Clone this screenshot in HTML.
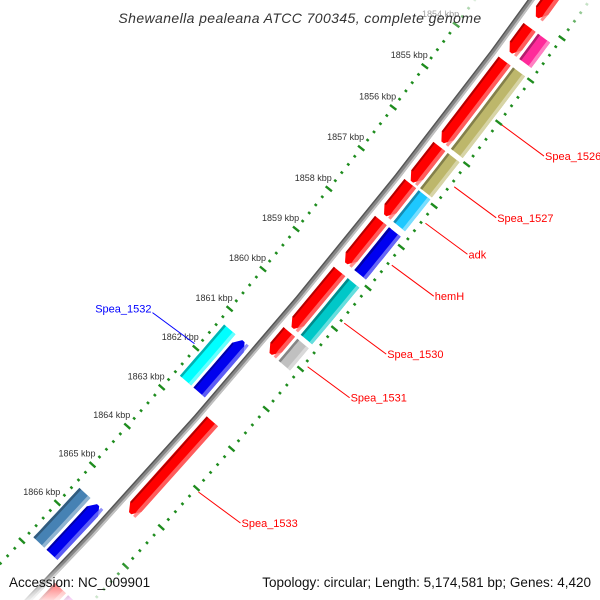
<!DOCTYPE html>
<html><head><meta charset="utf-8"><style>
html,body{margin:0;padding:0;background:#fff;width:600px;height:600px;overflow:hidden;}
svg{display:block;font-family:"Liberation Sans",sans-serif;}
</style></head><body>
<svg id="map" width="600" height="600" viewBox="0 0 600 600" xmlns="http://www.w3.org/2000/svg">
<defs>
<linearGradient id="fadeTop" x1="0" y1="0" x2="0" y2="1"><stop offset="0" stop-color="#fff" stop-opacity="0.85"/><stop offset="1" stop-color="#fff" stop-opacity="0"/></linearGradient>
<linearGradient id="fadeBot" x1="0" y1="0" x2="0" y2="1"><stop offset="0" stop-color="#fff" stop-opacity="0"/><stop offset="1" stop-color="#fff" stop-opacity="0.85"/></linearGradient>
</defs>
<g id="ticks"></g>
<rect x="0" y="0" width="600" height="34" fill="url(#fadeTop)"/>
<g id="backbone"></g>
<g id="genes"></g>
<g id="labels"></g>
<rect x="0" y="562" width="600" height="38" fill="url(#fadeBot)"/>
<text x="300" y="23" text-anchor="middle" font-size="14" font-style="italic" fill="#333" letter-spacing="0.4">Shewanella pealeana ATCC 700345, complete genome</text>
<text x="9" y="587" font-size="13.5" fill="#111">Accession: NC_009901</text>
<text x="591" y="587" font-size="13.5" text-anchor="end" fill="#111">Topology: circular; Length: 5,174,581 bp; Genes: 4,420</text>
</svg>
<script>
const majorTicks=[1850,1851,1852,1853,1854,1855,1856,1857,1858,1859,1860,1861,1862,1863,1864,1865,1866,1867,1868,1869,1870];
const tickLabels=["1850 kbp","1851 kbp","1852 kbp","1853 kbp","1854 kbp","1855 kbp","1856 kbp","1857 kbp","1858 kbp","1859 kbp","1860 kbp","1861 kbp","1862 kbp","1863 kbp","1864 kbp","1865 kbp","1866 kbp","1867 kbp","1868 kbp","1869 kbp","1870 kbp"];
const fwdStart=[1851.5,1853.2,1854.0,1856.05,1856.95,1857.85,1859.1,1860.6,1862.85,1867.15];
const fwdEnd=[1852.96,1853.8,1855.95,1856.9,1857.72,1858.9,1860.5,1861.15,1865.2,1868.6];
const fwdCog=[null,"#ff2a9a","#bdb76b","#bdb76b","#1ec8ff","#0000f0","#00c8c8","#c0c0c0",null,"#cc00cc"];
const revStart=[1861.3,1865.5];
const revEnd=[1862.6,1866.8];
const revCog=["#00ffff","#4682b4"];
const labelNames=["Spea_1526","Spea_1527","adk","hemH","Spea_1530","Spea_1531","Spea_1533","Spea_1532"];
const labelKbp=[1855.0,1856.48,1857.36,1858.38,1859.8,1860.88,1864.03,1861.95];
const labelStrand=[1,1,1,1,1,1,1,-1];

const NS="http://www.w3.org/2000/svg";
const CX=-4296, CY=-3534, R0=5983, TH0=37.33, DEG=0.5009;
function P(k,v){const t=(TH0+(k-1855)*DEG)*Math.PI/180;const r=R0+v;return [CX+r*Math.cos(t),CY+r*Math.sin(t)];}
function el(tag,attrs,parent){const e=document.createElementNS(NS,tag);for(const a in attrs)e.setAttribute(a,attrs[a]);parent.appendChild(e);return e;}
function pts(a){return a.map(p=>p[0].toFixed(1)+","+p[1].toFixed(1)).join(" ");}
function band(k1,k2,v1,v2){const a=[];const n=8;for(let i=0;i<=n;i++)a.push(P(k1+(k2-k1)*i/n,v1));for(let i=n;i>=0;i--)a.push(P(k1+(k2-k1)*i/n,v2));return a;}
function arrow(k1,k2,v1,v2,dir){const h=0.16;const vm=(v1+v2)/2;const a=[];
 if(dir>0){const kb=Math.max(k1,k2-h);a.push(P(k1,v1),P(kb,v1),P(k2,vm-1.5),P(k2,vm+1.5),P(kb,v2),P(k1,v2));}
 else{const kb=Math.min(k2,k1+h);a.push(P(k2,v1),P(kb,v1),P(k1,vm-1.5),P(k1,vm+1.5),P(kb,v2),P(k2,v2));}
 return a;}

const tg=document.getElementById('ticks');
const rings=[-46,47];
for(let i=0;i<majorTicks.length;i++){
 const k=majorTicks[i];
 for(const v of rings){const a=P(k,v-4),b=P(k,v+4);
  const t=el('line',{x1:a[0],y1:a[1],x2:b[0],y2:b[1],stroke:"#1e8c1e","stroke-width":2.4},tg);
  
  }
 const p=P(k,-46);
 if(p[0]>40){
  const tx=el('text',{x:(p[0]+3).toFixed(1),y:(p[1]-8).toFixed(1),"text-anchor":"end","font-size":9,fill:"#333"},tg);
  tx.textContent=tickLabels[i];
  
  
 }
 if(i<majorTicks.length-1){for(let j=1;j<5;j++){const km=k+j*0.2;
  for(const v of rings){const a=P(km,v-1.4),b=P(km,v+1.4);
   const m=el('line',{x1:a[0],y1:a[1],x2:b[0],y2:b[1],stroke:"#1e8c1e","stroke-width":2.4},tg);
   
   }}}
}

const bg=document.getElementById('backbone');
const bpoly=el('polygon',{points:pts(band(1848,1872,-3,3)),fill:"#858585"},bg);


el('polygon',{points:pts(band(1848,1872,1,3)),fill:"#c0c0c0"},bg);
el('polygon',{points:pts(band(1848,1872,-3,-1.6)),fill:"#555"},bg);

const gg=document.getElementById('genes');
function shade(col,f){const c=parseInt(col.slice(1),16);let r=c>>16,g=(c>>8)&255,b=c&255;
 if(f<0){r=Math.round(r*(1+f));g=Math.round(g*(1+f));b=Math.round(b*(1+f));}else{r=Math.round(r+(255-r)*f);g=Math.round(g+(255-g)*f);b=Math.round(b+(255-b)*f);}
 return "rgb("+r+","+g+","+b+")";}
function drawArrow(k1,k2,v1,v2,dir,col,name){
 const g=el('g',{},gg);
 
 
 el('polygon',{points:pts(arrow(k1,k2,v1,v2,dir)),fill:col},g);
 el('polygon',{points:pts(arrow(k1,k2,v2-4,v2,dir).slice(0,6)),fill:shade(col,0.45),opacity:0.8},g);
 el('polygon',{points:pts(band(k1+(dir<0?0.16:0),k2-(dir>0?0.16:0),v1,v1+2)),fill:shade(col,-0.3)},g);
}
function drawBox(k1,k2,v1,v2,col,name){
 const g=el('g',{},gg);
 
 
 el('polygon',{points:pts(band(k1,k2,v1,v2)),fill:col},g);
 el('polygon',{points:pts(band(k1,k2,v1,v1+2.5)),fill:shade(col,-0.3)},g);
 el('polygon',{points:pts(band(k1,k2,v2-3.5,v2)),fill:shade(col,0.4)},g);
}
for(let i=0;i<fwdStart.length;i++){
 drawArrow(fwdStart[i],fwdEnd[i],7,22,1,"#ff0000","forward-gene");
 if(fwdCog[i])drawBox(fwdStart[i],fwdEnd[i],25,40,fwdCog[i],"forward-cog-gene");
}
for(let i=0;i<revStart.length;i++){
 drawArrow(revStart[i],revEnd[i],-22,-7,-1,"#0000ee","reverse-gene");
 drawBox(revStart[i],revEnd[i],-40,-25,revCog[i],"reverse-cog-gene");
}

const lg=document.getElementById('labels');
for(let i=0;i<labelNames.length;i++){
 const s=labelStrand[i];const col=s>0?"#ff0000":"#0000ff";
 const a=P(labelKbp[i],s>0?51:-50);
 const b=[a[0]+42*s,a[1]+31*s];
 const ln=el('line',{x1:a[0],y1:a[1],x2:b[0],y2:b[1],stroke:col,"stroke-width":1},lg);
 
 
 const t=el('text',{x:(b[0]+(s>0?1:-1)).toFixed(1),y:(b[1]+(s>0?4:0)).toFixed(1),"font-size":11,fill:col,"text-anchor":s>0?"start":"end"},lg);
 t.textContent=labelNames[i];
 
 
}
</script>
</body></html>
